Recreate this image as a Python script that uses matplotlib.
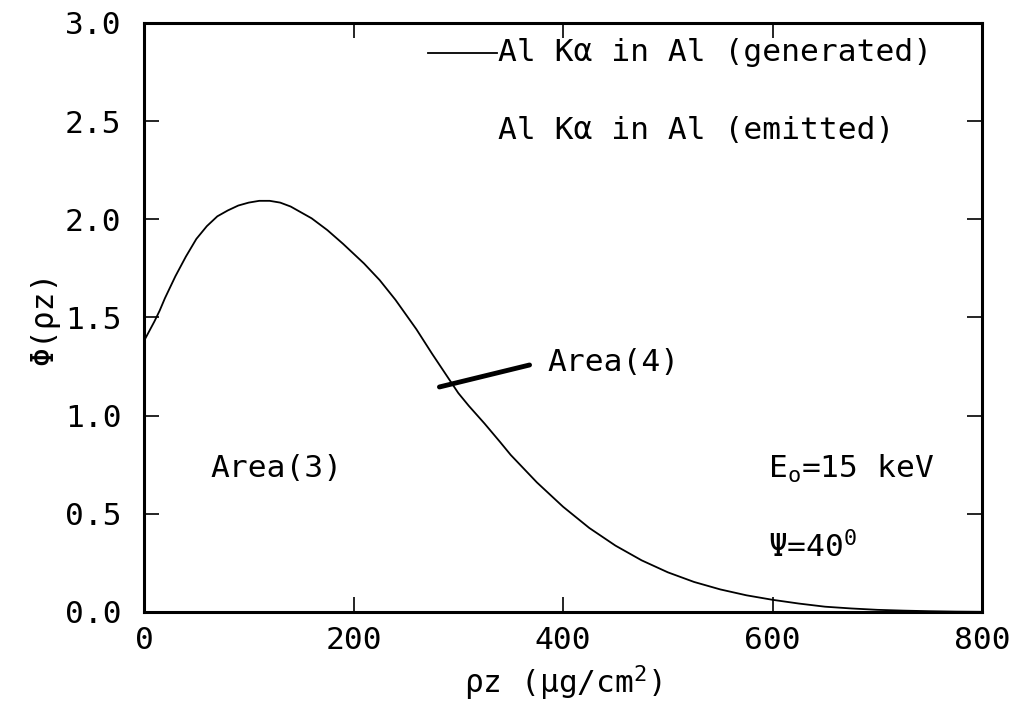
import matplotlib.pyplot as plt

# phi(rho z) depth distribution, Al K-alpha in Al at 15 keV
rho_z = [0, 5, 10, 15, 20, 30, 40, 50, 60, 70, 80, 90, 100, 110, 120, 130,
         140, 150, 160, 175, 190, 200, 210, 225, 240, 250, 260, 275, 290,
         300, 310, 325, 340, 350, 375, 400, 425, 450, 475, 500, 525, 550,
         575, 600, 625, 650, 675, 700, 725, 750, 775, 800]
phi_generated = [1.38, 1.43, 1.48, 1.535, 1.598, 1.71, 1.81, 1.90, 1.965,
                 2.015, 2.045, 2.07, 2.085, 2.094, 2.094, 2.085, 2.065,
                 2.035, 2.005, 1.945, 1.875, 1.825, 1.775, 1.69, 1.59,
                 1.515, 1.44, 1.315, 1.195, 1.115, 1.05, 0.96, 0.865, 0.80,
                 0.66, 0.536, 0.428, 0.338, 0.263, 0.202, 0.153, 0.115,
                 0.085, 0.062, 0.043, 0.027, 0.018, 0.011, 0.007, 0.004,
                 0.002, 0.001]

x_ticks = [0, 200, 400, 600, 800]
y_ticks = [0.0, 0.5, 1.0, 1.5, 2.0, 2.5, 3.0]

fs = 22.5
plt.rcParams['font.family'] = ['DejaVu Sans Mono', 'DejaVu Sans']
plt.rcParams['mathtext.fontset'] = 'custom'
plt.rcParams['mathtext.rm'] = 'DejaVu Sans Mono'
plt.rcParams['mathtext.it'] = 'DejaVu Sans Mono'

fig = plt.figure(figsize=(10.21, 7.08), dpi=100)
ax = fig.add_axes([0.141, 0.1356, 0.821, 0.832])

ax.plot(rho_z, phi_generated, color='black', lw=1.3)

ax.set_xlim(0, 800)
ax.set_ylim(0, 3.0)
ax.set_xticks(x_ticks)
ax.set_yticks(y_ticks)
ax.set_yticklabels([f'{v:.1f}' for v in y_ticks])
ax.tick_params(direction='in', length=11, width=1.2, labelsize=fs,
               top=True, right=True)
ax.tick_params(axis='y', pad=16)
ax.tick_params(axis='x', pad=10)
for sp in ax.spines.values():
    sp.set_linewidth(2.2)

ax.set_xlabel('ρz (μg/cm$^{2}$)', fontsize=fs, labelpad=6)
ax.set_ylabel('Φ(ρz)', fontsize=fs, labelpad=4)

# key in the upper right
ax.plot([0.339, 0.421], [0.949, 0.949], color='black', lw=1.3,
        transform=ax.transAxes)
ax.text(0.422, 0.949, 'Al Kα in Al (generated)', transform=ax.transAxes,
        fontsize=fs, va='center', ha='left')
ax.text(0.422, 0.818, 'Al Kα in Al (emitted)', transform=ax.transAxes,
        fontsize=fs, va='center', ha='left')

# area annotations
ax.plot([282, 368], [1.146, 1.258], color='black', lw=3.5,
        solid_capstyle='round')
ax.text(385, 1.27, 'Area(4)', fontsize=fs, va='center', ha='left')
ax.text(63, 0.733, 'Area(3)', fontsize=fs, va='center', ha='left')

ax.text(596, 0.73, 'E$_{o}$=15 keV', fontsize=fs, va='center', ha='left')
ax.text(596, 0.33, 'Ψ=40$^{0}$', fontsize=fs, va='center', ha='left')

fig.savefig('out.png', dpi=100)
